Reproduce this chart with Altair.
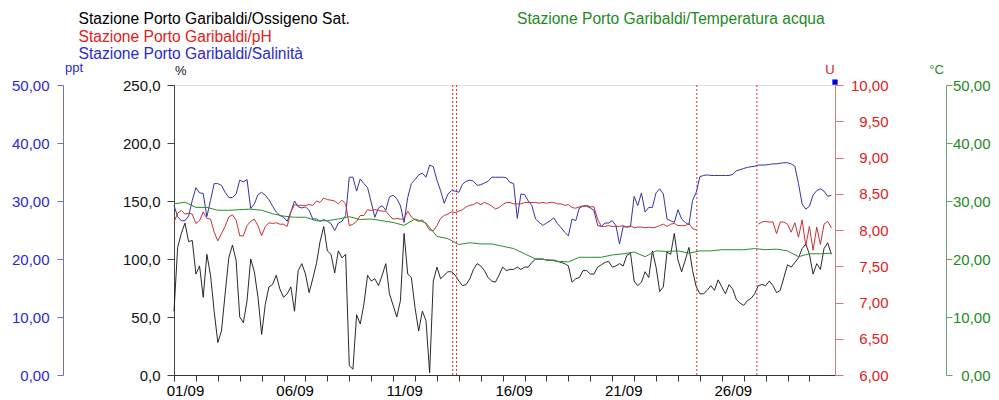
import altair as alt
import pandas as pd

FONT = "Liberation Sans"

# ---------------- data ----------------
START = "2023-09-01 00:00"          # first sample, 4-hour step for OXY/SAL/PH
TEMP_START = "2023-09-01 00:00"     # 12-hour step for TEMP

# Ossigeno Sat. (%)
OXY = [
    55, 110, 122, 131, 115, 116, 87, 94, 67, 104, 86, 55,
    28, 38, 70, 101, 112, 99, 50, 45, 64, 100, 89, 67,
    35, 61, 76, 78, 86, 74, 67, 70, 76, 55, 90, 96,
    87, 71, 83, 96, 115, 128, 107, 104, 88, 107, 101, 104,
    8, 5, 52, 44, 61, 86, 81, 83, 77, 86, 96, 70,
    60, 50, 64, 122, 87, 84, 58, 38, 55, 47, 2, 81,
    93, 83, 86, 89, 89, 86, 81, 77, 78, 83, 91, 96,
    94, 90, 84, 81, 80, 86, 93, 90, 91, 91, 93, 91,
    93, 93, 97, 100, 100, 100, 99, 99, 99, 98, 97, 96,
    94, 80, 83, 84, 90, 90, 87, 87, 93, 95, 97, 98,
    93, 94, 96, 94, 103, 105, 81, 77, 80, 89, 84, 107,
    93, 72, 76, 106, 104, 122, 99, 89, 99, 110, 90, 76,
    70, 70, 73, 77, 73, 82, 76, 70, 78, 74, 65, 62,
    60, 64, 66, 70, 77, 78, 77, 81, 77, 71, 73, 84,
    95, 93, 97, 101, 109, 113, 104, 87, 96, 91, 109, 114,
    104,
]

# Salinità (ppt)
SAL = [
    29.2, 27.3, 26.6, 26.6, 27.4, 30.1, 32.3, 31.4, 31.3, 27.3, 30.1, 33.0,
    33.0, 32.7, 31.5, 30.6, 30.6, 31.2, 33.6, 33.3, 33.7, 28.7, 29.5, 31.1,
    31.5, 31.0, 30.2, 29.1, 28.1, 27.5, 27.2, 26.5, 28.1, 30.0, 29.0, 28.8,
    29.0, 28.4, 26.9, 26.9, 26.5, 26.8, 26.5, 26.1, 24.9, 26.2, 26.5, 27.5,
    34.1, 34.1, 31.7, 33.8, 33.0, 32.3, 29.8, 27.2, 28.8, 29.2, 28.4, 30.7,
    31.0, 30.4, 29.2, 26.3, 30.6, 33.0, 33.7, 34.5, 34.8, 34.1, 36.2, 35.9,
    33.6, 31.8, 29.6, 31.2, 31.8, 31.7, 31.5, 32.9, 33.4, 33.6, 33.4, 32.7,
    32.8, 33.1, 33.4, 34.1, 34.1, 34.1, 34.1, 34.0, 33.2, 33.0, 27.0, 31.2,
    31.1, 30.0, 29.2, 26.9, 26.3, 25.8, 26.2, 26.6, 27.1, 26.1, 25.4, 24.6,
    24.0, 26.9, 26.6, 28.8, 29.1, 29.1, 28.8, 28.4, 25.8, 25.6, 26.2, 26.2,
    26.6, 25.8, 22.6, 25.6, 25.5, 25.6, 30.8, 29.2, 31.4, 28.1, 28.9, 28.9,
    31.4, 32.1, 31.2, 26.9, 26.6, 26.3, 28.5, 26.9, 26.3, 25.9, 30.1, 31.5,
    34.2, 34.4, 34.5, 34.4, 34.4, 34.4, 34.4, 34.4, 34.4, 34.6, 35.2, 35.4,
    35.6, 35.8, 35.9, 36.0, 36.2, 36.2, 36.2, 36.3, 36.4, 36.4, 36.5, 36.6,
    36.6, 36.4, 36.0, 33.0, 29.5, 28.6, 29.1, 31.0, 31.8, 32.1, 31.7, 30.8,
    31.0,
]

# pH (U) - None where the station gave no value
PH = [
    8.11, 8.23, 8.27, 8.22, 8.23, 8.22, 8.09, 8.13, 8.25, 8.16, 8.15, 7.97,
    7.85, 7.95, 8.05, 8.18, 8.21, 8.14, 7.92, 7.92, 8.06, 8.12, 8.15, 8.06,
    7.92, 8.05, 8.10, 8.09, 8.10, 8.08, 8.08, 8.05, 8.25, 8.35, 8.34, 8.34,
    8.34, 8.35, 8.34, 8.40, 8.38, 8.44, 8.42, 8.41, 8.40, 8.36, 8.41, 8.36,
    8.06, 8.08, 8.12, 8.20, 8.20, 8.28, 8.27, 8.28, 8.27, 8.26, 8.26, 8.20,
    8.15, 8.16, 8.15, 8.15, 8.26, 8.18, 8.14, 8.12, 8.14, 8.08, 8.00, 7.99,
    8.06, 8.16, 8.20, 8.22, 8.25, 8.24, 8.26, 8.28, 8.32, 8.34, 8.35, 8.38,
    8.35, 8.38, 8.36, 8.33, 8.29, 8.31, 8.35, 8.38, 8.38, 8.36, 8.36, 8.36,
    8.38, 8.38, 8.38, 8.38, 8.37, 8.38, 8.37, 8.38, 8.38, 8.36, 8.36, 8.34,
    8.35, 8.31, 8.30, 8.32, 8.33, 8.34, 8.32, 8.32, 8.15, 8.05, 8.05, 8.06,
    8.05, 8.05, 8.05, 8.06, 8.04, 8.06, 8.03, 8.04, 8.04, 8.03, 8.04, 8.03,
    8.04, 8.06, 8.08, 8.05, 8.08, 8.09, 8.06, 8.06, 8.06, 8.09, 8.02, 8.00,
    None, None, None, None, None, None, None, None, None, None, None, None,
    None, None, None, None, 8.08, 8.11, 8.12, 8.11, 8.11, 7.95, 8.11, 8.11,
    8.08, 7.97, 8.10, 7.90, 8.14, 7.78, 8.05, 7.72, 8.04, 7.80, 8.08, 8.12,
    8.03,
]

# Temperatura acqua (°C), 12-hour step
TEMP = [
    29.5, 29.8, 28.9, 28.9, 28.4, 28.4, 28.5, 28.6, 28.4, 27.8, 27.4, 27.2,
    27.2, 26.6, 26.6, 26.9, 27.3, 26.8, 26.9, 26.6, 26.3, 25.8, 26.9, 26.2,
    23.9, 23.5, 22.5, 22.8, 22.6, 22.6, 22.2, 21.8, 20.9, 20.0, 19.9, 19.6,
    19.5, 20.3, 20.3, 20.3, 20.7, 20.9, 21.2, 20.4, 21.4, 21.3, 21.4, 21.0,
    21.4, 21.4, 21.6, 21.6, 21.6, 21.8, 21.6, 21.7, 21.4, 20.4, 20.9, 20.9,
    21.0,
]

# pH out-of-range events (vertical red markers)
EVENTS = ["2023-09-13 17:15", "2023-09-13 21:30", "2023-09-24 20:40", "2023-09-27 14:25"]

# last-value marker of Salinità
SAL_MARK_TIME = ["2023-10-01 04:00"]
SAL_MARK_VALUE = [50.5]

DAYS = list(range(1, 31))
OXY_TICKS = [0, 50, 100, 150, 200, 250]
SAL_TICKS = [0, 10, 20, 30, 40, 50]
PH_TICKS = [6.0, 6.5, 7.0, 7.5, 8.0, 8.5, 9.0, 9.5, 10.0]
TEMP_TICKS = [0, 10, 20, 30, 40, 50]

# ---------------- tables ----------------
main = pd.DataFrame({
    "time": pd.date_range(START, periods=len(OXY), freq="4h"),
    "oxy": OXY, "sal": SAL, "ph": PH,
})
main["ph_seg"] = main["ph"].isna().cumsum()
ph_df = main.dropna(subset=["ph"])[["time", "ph", "ph_seg"]]
temp_df = pd.DataFrame({
    "time": pd.date_range(TEMP_START, periods=len(TEMP), freq="12h"),
    "temp": TEMP,
})
events_df = pd.DataFrame({"time": pd.to_datetime(EVENTS)})
mark_df = pd.DataFrame({"time": pd.to_datetime(SAL_MARK_TIME), "sal": SAL_MARK_VALUE})

X_DOMAIN = [alt.DateTime(year=2023, month=9, date=1, hours=0),
            alt.DateTime(year=2023, month=10, date=1, hours=4)]

x_axis = alt.Axis(
    values=[alt.DateTime(year=2023, month=9, date=d) for d in DAYS],
    labelExpr="date(datum.value) % 5 == 1 ? timeFormat(datum.value, '%d/%m') : ''",
    labelOffset=11, labelFlush=False, labelOverlap=False,
    tickSize=6, labelPadding=2, labelFont=FONT, labelFontSize=15,
    labelColor="#000000", domainColor="#333333", tickColor="#333333",
    grid=False, title=None,
)


def xenc():
    return alt.X("time:T", scale=alt.Scale(domain=X_DOMAIN), axis=x_axis, title=None)


def lbl(dec):
    return f"replace(format(datum.value, '.{dec}f'), '.', ',')"


def yaxis(orient, offset, values, dec, dcol, lcol, tick, pad, align=None):
    kw = dict(orient=orient, offset=offset, values=values, labelExpr=lbl(dec),
              tickSize=tick, labelPadding=pad, labelFont=FONT, labelFontSize=15,
              labelColor=lcol, domainColor=dcol, tickColor=dcol, grid=False,
              title=None, labelFlush=False, labelOverlap=False)
    if align:
        kw["labelAlign"] = align
    return alt.Axis(**kw)


oxy_line = alt.Chart(main).mark_line(color="#111111", strokeWidth=0.9).encode(
    x=xenc(),
    y=alt.Y("oxy:Q", scale=alt.Scale(domain=[0, 250], nice=False),
            axis=yaxis("left", 0, OXY_TICKS, 1, "#444444", "#111111", 7, 7)),
)

sal_line = alt.Chart(main).mark_line(color="#3434a4", strokeWidth=1).encode(
    x=xenc(),
    y=alt.Y("sal:Q", scale=alt.Scale(domain=[0, 50], nice=False),
            axis=yaxis("left", 111, SAL_TICKS, 2, "#7070c4", "#2a2ad0", 6, 8)),
)

sal_mark = alt.Chart(mark_df).mark_square(color="#0000ee", size=28, opacity=1).encode(
    x=xenc(),
    y=alt.Y("sal:Q", scale=alt.Scale(domain=[0, 50], nice=False), axis=None),
)

ph_line = alt.Chart(ph_df).mark_line(color="#c83232", strokeWidth=1).encode(
    x=xenc(),
    y=alt.Y("ph:Q", scale=alt.Scale(domain=[6, 10], nice=False, zero=False),
            axis=yaxis("right", 0, PH_TICKS, 2, "#d47878", "#e0201c", 8, 45, "right")),
    detail="ph_seg:N",
)

temp_line = alt.Chart(temp_df).mark_line(color="#2a8f2a", strokeWidth=1).encode(
    x=xenc(),
    y=alt.Y("temp:Q", scale=alt.Scale(domain=[0, 50], nice=False),
            axis=yaxis("right", 111, TEMP_TICKS, 2, "#62a862", "#1e8a1e", 6, 38, "right")),
)

event_rules = alt.Chart(events_df).mark_rule(
    color="#d03030", strokeWidth=1, strokeDash=[2, 2]
).encode(x=xenc())


def text(txt, x, y, color, size=15.6, align="left"):
    return alt.Chart(pd.DataFrame({"t": [txt]})).mark_text(
        align=align, baseline="alphabetic", font=FONT, fontSize=size, color=color
    ).encode(text="t:N", x=alt.value(x), y=alt.value(y))


texts = [
    text("Stazione Porto Garibaldi/Ossigeno Sat.", -95.5, -61, "#000000"),
    text("Stazione Porto Garibaldi/pH", -95.5, -43.5, "#e0201c"),
    text("Stazione Porto Garibaldi/Salinità", -95.5, -26, "#2a2ad0"),
    text("Stazione Porto Garibaldi/Temperatura acqua", 343, -61, "#1e8a1e"),
    text("ppt", -109, -13, "#2a2ad0", 13),
    text("%", 1, -10, "#111111", 13),
    text("U", 656, -11, "#e0201c", 13, "center"),
    text("°C", 762.5, -11, "#1e8a1e", 13, "center"),
]

chart = alt.layer(
    oxy_line, sal_line, ph_line, temp_line, event_rules, sal_mark, *texts
).resolve_scale(y="independent").properties(
    width=661, height=290,
    padding={"left": 166, "top": 77, "right": 156, "bottom": 24},
    autosize=alt.AutoSizeParams(type="none"),
).configure_view(stroke=None).configure(background="white")

chart.save("out.html", embed_options={"renderer": "svg", "actions": False})
